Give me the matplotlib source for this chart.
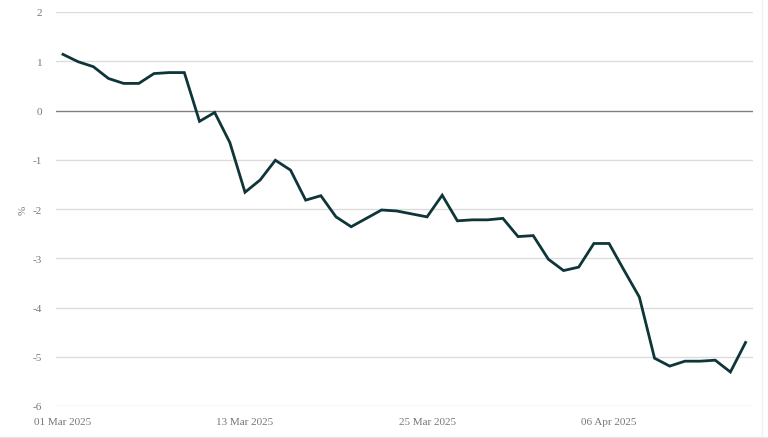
import matplotlib
matplotlib.use("Agg")
from matplotlib import pyplot as plt
import matplotlib.dates as mdates
import numpy as np
import pandas as pd

# daily series, 01 Mar 2025 - 15 Apr 2025
dates = pd.date_range("2025-03-01", "2025-04-15", freq="D")
values = [
    1.14, 0.99, 0.89, 0.65, 0.55, 0.55, 0.75, 0.77, 0.77, -0.22,
    -0.04, -0.65, -1.66, -1.41, -1.01, -1.21, -1.82, -1.73, -2.16, -2.36,
    -2.19, -2.02, -2.04, -2.10, -2.16, -1.72, -2.24, -2.22, -2.22, -2.19,
    -2.56, -2.54, -3.02, -3.25, -3.18, -2.70, -2.70, -3.25, -3.79, -5.03,
    -5.19, -5.09, -5.09, -5.07, -5.31, -4.71,
]
y_ticks = [2, 1, 0, -1, -2, -3, -4, -5, -6]
x_ticks = ["2025-03-01", "2025-03-13", "2025-03-25", "2025-04-06"]

plt.rcParams['font.family'] = ['Liberation Serif', 'DejaVu Serif']

fig = plt.figure(figsize=(7.68, 4.39), dpi=100)
ax = fig.add_axes([56/768, 1 - 407/439, (753 - 56)/768, (407 - 13)/439])

ax.plot(dates, values, color="#0e3538", lw=2.0, solid_joinstyle="miter", zorder=3)

x0 = mdates.date2num(dates[0])
ax.set_xlim(x0 - 0.46, x0 + 45.49)
ax.set_ylim(-6, 2)

ax.set_yticks(y_ticks)
ax.set_yticklabels([str(v) for v in y_ticks])
ax.set_xticks(mdates.date2num(pd.to_datetime(x_ticks)))
ax.xaxis.set_major_formatter(mdates.DateFormatter("%d %b %Y"))

for v in y_ticks:
    ax.axhline(v, color="#808080" if v == 0 else "#dcdcdc", lw=1.0, zorder=1)

for s in ax.spines.values():
    s.set_visible(False)
ax.tick_params(length=0, labelsize=8, labelcolor="#777777")
ax.tick_params(axis="y", pad=10)
ax.tick_params(axis="x", pad=8)
ax.set_ylabel("%", fontsize=8, color="#777777")
ax.yaxis.set_label_coords(-0.040, 0.5)

# faint frame lines at bottom and right
fig.add_artist(plt.Line2D([0, 1], [1 - 437.5/439] * 2, color="#e6e6e6", lw=1))
fig.add_artist(plt.Line2D([762/768] * 2, [1 - 437.5/439, 1], color="#f0f0f0", lw=1))

fig.savefig("out.png", dpi=100)
